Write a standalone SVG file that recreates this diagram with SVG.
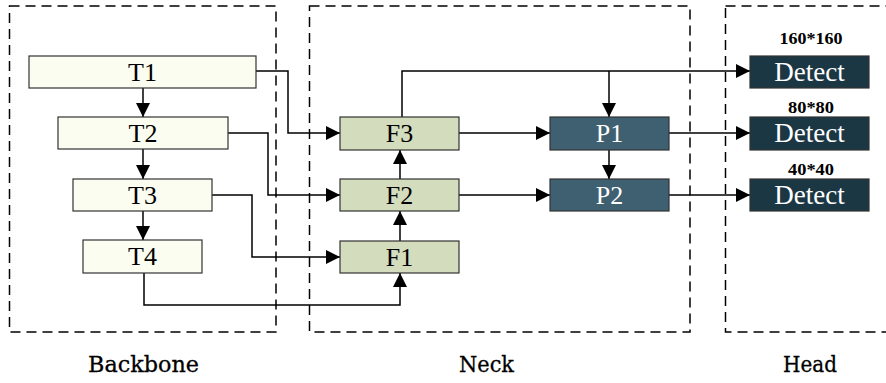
<svg xmlns="http://www.w3.org/2000/svg" width="886" height="383" viewBox="0 0 886 383">
  <style>
    .stage { fill: none; stroke: #000; stroke-width: 1.5; stroke-dasharray: 10 6; }
    .box { stroke: #333; stroke-width: 1.2; }
    .t { fill: #fbfdf1; }
    .f { fill: #d3ddbe; }
    .p { fill: #3f6070; }
    .d { fill: #1c3744; }
    .lbl { font-family: "Liberation Serif", "Times New Roman", serif; font-size: 26px; text-anchor: middle; }
    .dark { fill: #000; }
    .light { fill: #fff; }
    .scale { font-family: "Liberation Serif", "Times New Roman", serif; font-size: 17px; font-weight: bold; text-anchor: middle; fill: #000; }
    .stage-name { font-family: "DejaVu Serif", "Liberation Serif", serif; font-size: 23px; text-anchor: middle; fill: #000; stroke: #000; stroke-width: 0.3; }
    .wire { fill: none; stroke: #000; stroke-width: 1.5; marker-end: url(#arrow); }
  </style>
  <defs>
    <marker id="arrow" markerUnits="userSpaceOnUse" markerWidth="14" markerHeight="14" refX="14" refY="7" orient="auto">
      <path d="M0,0 L14,7 L0,14 Z" fill="#000"/>
    </marker>
  </defs>

  <rect width="886" height="383" fill="#fff"/>

  <!-- stage frames -->
  <g id="stages">
    <rect class="stage" x="9.5" y="6" width="266.5" height="326"/>
    <rect class="stage" x="309.5" y="6" width="380.5" height="326"/>
    <rect class="stage" x="725.5" y="6" width="200" height="326"/>
    <text class="stage-name" x="143.5" y="372" textLength="111" lengthAdjust="spacingAndGlyphs">Backbone</text>
    <text class="stage-name" x="486.5" y="372" textLength="55" lengthAdjust="spacingAndGlyphs">Neck</text>
    <text class="stage-name" x="810" y="372" textLength="54" lengthAdjust="spacingAndGlyphs">Head</text>
  </g>

  <!-- connectors -->
  <g id="connectors">
    <path class="wire" d="M143,88 V117"/>
    <path class="wire" d="M143,149 V179"/>
    <path class="wire" d="M143,211 V240"/>
    <path class="wire" d="M256,71 H288 V133 H340"/>
    <path class="wire" d="M228,133 H268 V195 H340"/>
    <path class="wire" d="M212,195 H252 V257 H340"/>
    <path class="wire" d="M144,273 V305 H400 V273"/>
    <path class="wire" d="M400,241 V211"/>
    <path class="wire" d="M400,179 V150"/>
    <path class="wire" d="M459,133 H550"/>
    <path class="wire" d="M459,195 H550"/>
    <path class="wire" d="M402,117 V71 H750"/>
    <path class="wire" d="M609,71 V117"/>
    <path class="wire" d="M609,150 V179"/>
    <path class="wire" d="M669,133 H750"/>
    <path class="wire" d="M669,195 H750"/>
  </g>

  <!-- backbone -->
  <g id="T1"><rect class="box t" x="29" y="56" width="227" height="32"/><text class="lbl dark" x="142.5" y="81">T1</text></g>
  <g id="T2"><rect class="box t" x="58" y="117" width="170" height="32"/><text class="lbl dark" x="143" y="142">T2</text></g>
  <g id="T3"><rect class="box t" x="73" y="179" width="139" height="32"/><text class="lbl dark" x="142.5" y="204">T3</text></g>
  <g id="T4"><rect class="box t" x="83" y="240" width="119" height="33"/><text class="lbl dark" x="142.5" y="265">T4</text></g>

  <!-- neck -->
  <g id="F3"><rect class="box f" x="340" y="117" width="119" height="33"/><text class="lbl dark" x="399.5" y="142">F3</text></g>
  <g id="F2"><rect class="box f" x="340" y="179" width="119" height="32"/><text class="lbl dark" x="399.5" y="204">F2</text></g>
  <g id="F1"><rect class="box f" x="340" y="241" width="119" height="32"/><text class="lbl dark" x="399.5" y="266">F1</text></g>
  <g id="P1"><rect class="box p" x="550" y="117" width="119" height="33"/><text class="lbl light" x="609.5" y="142">P1</text></g>
  <g id="P2"><rect class="box p" x="550" y="179" width="119" height="32"/><text class="lbl light" x="609.5" y="204">P2</text></g>

  <!-- head -->
  <g id="D1">
    <text class="scale" x="811" y="44" textLength="63" lengthAdjust="spacingAndGlyphs">160*160</text>
    <rect class="box d" x="750" y="56" width="119" height="32"/><text class="lbl light" x="809.5" y="81" style="font-size:27px">Detect</text>
  </g>
  <g id="D2">
    <text class="scale" x="811" y="113" textLength="46" lengthAdjust="spacingAndGlyphs">80*80</text>
    <rect class="box d" x="750" y="117" width="119" height="33"/><text class="lbl light" x="809.5" y="142" style="font-size:27px">Detect</text>
  </g>
  <g id="D3">
    <text class="scale" x="811" y="175" textLength="46" lengthAdjust="spacingAndGlyphs">40*40</text>
    <rect class="box d" x="750" y="179" width="119" height="32"/><text class="lbl light" x="809.5" y="204" style="font-size:27px">Detect</text>
  </g>
</svg>
